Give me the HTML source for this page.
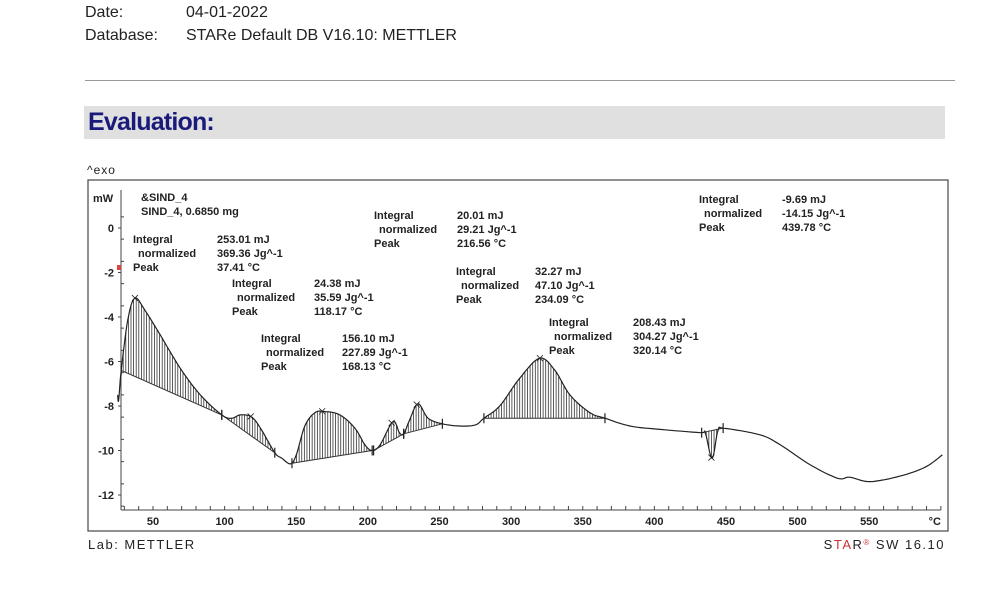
<!DOCTYPE html>
<html><head><meta charset="utf-8"><style>
body{margin:0;background:#fff;width:985px;height:598px;overflow:hidden;font-family:"Liberation Sans",Arial,sans-serif}
.t{position:absolute;font-size:16px;color:#222}
</style></head><body>
<div class="t" style="left:85px;top:4px">Date:</div>
<div class="t" style="left:186px;top:4px">04-01-2022</div>
<div class="t" style="left:85px;top:27px">Database:</div>
<div class="t" style="left:186px;top:27px">STARe Default DB V16.10: METTLER</div>
<div style="position:absolute;left:85px;top:80px;width:870px;height:1px;background:#999"></div>
<div style="position:absolute;left:84px;top:106px;width:861px;height:33px;background:#e0e0e0"></div>
<div style="position:absolute;left:88px;top:108px;font-size:25px;font-weight:bold;color:#1a1a7a;letter-spacing:-0.8px">Evaluation:</div>
<svg id="chart" width="985" height="598" style="position:absolute;left:0;top:0" font-family="Liberation Sans, Arial, sans-serif"></svg>
<script>
const temps=[25.3,26,27.8,32.5,37.4,44.4,55,69,83,98,105,111,119,126,135,140,146,150,156,163,170,180.5,191,198,203,208.5,217.5,222,225,229,235,242,252,264,275,281,292,306,320,330.6,341,355,365.5,383,404,432,435.5,440.3,444.4,448.6,474,488,509,528,536.5,550.5,571.5,589,601];
const heatFlow=[-7.5,-7.75,-6.4,-4.1,-3.15,-3.7,-4.8,-6.3,-7.5,-8.4,-8.55,-8.4,-8.5,-9.1,-10.1,-10.35,-10.6,-10.2,-8.9,-8.3,-8.25,-8.4,-9,-9.75,-10,-9.75,-8.7,-9.2,-9.25,-8.65,-7.9,-8.55,-8.8,-8.9,-8.85,-8.55,-8,-6.75,-5.85,-6.4,-7.5,-8.3,-8.55,-8.9,-9.05,-9.2,-9.2,-10.35,-9.1,-9,-9.3,-9.75,-10.65,-11.25,-11.2,-11.4,-11.15,-10.75,-10.2];
const peakStart=[27.8,98,147,204,225,281,433];
const peakEnd=[98,135,203,225,252,365.5,448];
const peakTemp=[37.4,118.2,168.1,216.6,234.1,320.1,439.8];
const xTicks=[50,100,150,200,250,300,350,400,450,500,550];
const yTicks=[0,-2,-4,-6,-8,-10,-12];
const labels=[
 {x:133,y:243,k:["Integral"," normalized","Peak"],v:["253.01 mJ","369.36 Jg^-1","37.41 °C"]},
 {x:232,y:287,k:["Integral"," normalized","Peak"],v:["24.38 mJ","35.59 Jg^-1","118.17 °C"]},
 {x:261,y:342,k:["Integral"," normalized","Peak"],v:["156.10 mJ","227.89 Jg^-1","168.13 °C"]},
 {x:374,y:219,k:["Integral"," normalized","Peak"],v:["20.01 mJ","29.21 Jg^-1","216.56 °C"]},
 {x:456,y:275,k:["Integral"," normalized","Peak"],v:["32.27 mJ","47.10 Jg^-1","234.09 °C"]},
 {x:549,y:326,k:["Integral"," normalized","Peak"],v:["208.43 mJ","304.27 Jg^-1","320.14 °C"]},
 {x:699,y:203,k:["Integral"," normalized","Peak"],v:["-9.69 mJ","-14.15 Jg^-1","439.78 °C"]}];
const offs=[84,82,81,83,79,84,83];
const X=t=>153+(t-50)*1.4325, Y=v=>228-22.25*v;
const svg=document.getElementById('chart');const NS='http://www.w3.org/2000/svg';
function mk(tag,a,parent){const e=document.createElementNS(NS,tag);for(const k in a)e.setAttribute(k,a[k]);(parent||svg).appendChild(e);return e;}
// Catmull-Rom densify
const dT=[],dV=[];
for(let i=0;i<temps.length-1;i++){
 const i0=Math.max(0,i-1),i3=Math.min(temps.length-1,i+2);
 for(let s=0;s<8;s++){const u=s/8,u2=u*u,u3=u2*u;
  const cr=(p0,p1,p2,p3)=>0.5*((2*p1)+(-p0+p2)*u+(2*p0-5*p1+4*p2-p3)*u2+(-p0+3*p1-3*p2+p3)*u3);
  dT.push(cr(temps[i0],temps[i],temps[i+1],temps[i3]));dV.push(cr(heatFlow[i0],heatFlow[i],heatFlow[i+1],heatFlow[i3]));}}
dT.push(temps[temps.length-1]);dV.push(heatFlow[heatFlow.length-1]);
function f(t){for(let i=0;i<dT.length-1;i++){if(t>=dT[i]&&t<=dT[i+1]){const r=(t-dT[i])/((dT[i+1]-dT[i])||1);return dV[i]+r*(dV[i+1]-dV[i]);}}return dV[dV.length-1];}
let e;
e=mk('text',{x:87,y:174,'font-size':12,fill:'#222','letter-spacing':'1'});e.textContent='^exo';


e=mk('rect',{x:88,y:180,width:860,height:351,fill:'none',stroke:'#555','stroke-width':1.3});


e=mk('line',{x1:121,y1:190,x2:121,y2:510,stroke:'#444'});


e=mk('line',{x1:121,y1:510,x2:941,y2:510,stroke:'#444'});


for(let v=-12.5;v<=1;v+=1){mk('line',{x1:121,y1:Y(v),x2:124,y2:Y(v),stroke:'#444'});}
yTicks.forEach(v=>{mk('line',{x1:118,y1:Y(v),x2:121,y2:Y(v),stroke:'#444'});
 e=mk('text',{x:114,y:Y(v)+4,'font-size':11,'text-anchor':'end',fill:'#222','font-weight':'bold'});e.textContent=v;
 
 });
for(let t=30;t<=600;t+=10){mk('line',{x1:X(t),y1:510,x2:X(t),y2:506,stroke:'#444'});}
xTicks.forEach(t=>{e=mk('text',{x:X(t),y:525,'font-size':11,'text-anchor':'middle',fill:'#222','font-weight':'bold'});e.textContent=t;
 
 });
e=mk('text',{x:941,y:525,'font-size':11,'text-anchor':'end',fill:'#222','font-weight':'bold'});e.textContent='°C';


e=mk('text',{x:93,y:202,'font-size':11,fill:'#222','font-weight':'bold'});e.textContent='mW';


e=mk('text',{x:141,y:201,'font-size':11,fill:'#222','font-weight':'bold'});e.textContent='&SIND_4';


e=mk('text',{x:141,y:215,'font-size':11,fill:'#222','font-weight':'bold'});e.textContent='SIND_4, 0.6850 mg';


mk('rect',{x:117,y:265,width:4,height:5,fill:'#d44'});
peakStart.forEach((s,i)=>{const en=peakEnd[i];const g=mk('g',{stroke:'#333','stroke-width':0.8});
 
 
 const b0=f(s),b1=f(en);
 mk('line',{x1:X(s),y1:Y(b0),x2:X(en),y2:Y(b1),stroke:'#333','stroke-width':1},g);
 for(let px=X(s)+2;px<X(en);px+=2.6){const t=50+(px-153)/1.4325;const b=b0+(t-s)/(en-s)*(b1-b0);mk('line',{x1:px,y1:Y(b),x2:px,y2:Y(f(t))},g);}
 [s,en].forEach(t=>mk('line',{x1:X(t),y1:Y(f(t))-5,x2:X(t),y2:Y(f(t))+5,stroke:'#222','stroke-width':1.2},g));
 const pt=peakTemp[i];const px=X(pt),py=Y(f(pt));
 mk('path',{d:`M${px-3},${py-3}L${px+3},${py+3}M${px-3},${py+3}L${px+3},${py-3}`,stroke:'#222'},g);
});
e=mk('polyline',{points:dT.map((t,i)=>X(t).toFixed(1)+','+Y(dV[i]).toFixed(1)).join(' '),fill:'none',stroke:'#222','stroke-width':1.2,'stroke-linejoin':'round'});


labels.forEach((L,i)=>{const g=mk('g',{'font-size':11,fill:'#222','font-weight':'bold'});
 
 
 L.k.forEach((k,j)=>{const a=mk('text',{x:L.x+(j==1?5:0),y:L.y+j*14},g);a.textContent=k;});
 L.v.forEach((v,j)=>{const a=mk('text',{x:L.x+offs[i],y:L.y+j*14},g);a.textContent=v;});});
e=mk('text',{x:88,y:549,'font-size':13,fill:'#222','letter-spacing':'1.5'});e.textContent='Lab: METTLER';


e=mk('text',{x:945,y:549,'font-size':13,fill:'#222','letter-spacing':'1.5','text-anchor':'end'});
e.innerHTML='S<tspan fill="#c33">TA</tspan>R<tspan fill="#c33" font-size="8" dy="-4">®</tspan><tspan dy="4"> SW 16.10</tspan>';


</script>
</body></html>
